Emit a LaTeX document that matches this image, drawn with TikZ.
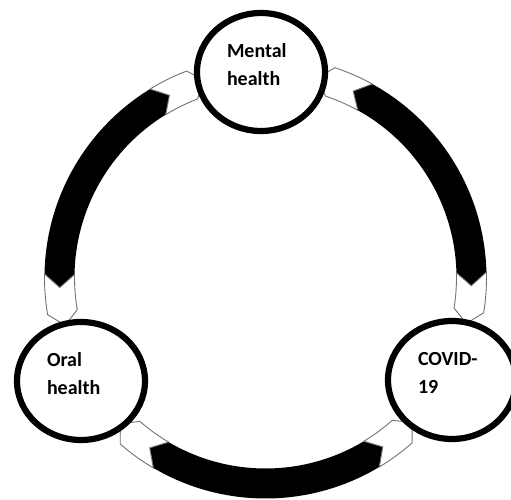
\documentclass[tikz,border=0pt]{standalone}
\usepackage{fontspec}
\setmainfont{Carlito}
\usetikzlibrary{shapes.geometric}

% radii of the arrow band around the cycle centre
\def\Ro{221pt}\def\Rm{206pt}\def\Ri{191pt}

% one double-headed band between two node angles #1 < #2
\newcommand\cyclearrow[2]{%
  \pgfmathsetmacro\fa{#1+19.6}\pgfmathsetmacro\ta{#1+15.9}%
  \pgfmathsetmacro\ba{#1+30.2}\pgfmathsetmacro\na{#1+26.5}%
  \pgfmathsetmacro\fb{#2-19.6}\pgfmathsetmacro\tb{#2-15.9}%
  \pgfmathsetmacro\bb{#2-30.2}\pgfmathsetmacro\nb{#2-26.5}%
  \fill[bandbody] (\ba:\Ro) arc[start angle=\ba, end angle=\bb, radius=\Ro]
    -- (\nb:\Rm) -- (\bb:\Ri) arc[start angle=\bb, end angle=\ba, radius=\Ri]
    -- (\na:\Rm) -- cycle;
  \filldraw[chevron] (\fa:\Ro) -- (\ta:\Rm) -- (\fa:\Ri)
    arc[start angle=\fa, end angle=\ba, radius=\Ri]
    -- (\na:\Rm) -- (\ba:\Ro) arc[start angle=\ba, end angle=\fa, radius=\Ro] -- cycle;
  \filldraw[chevron] (\fb:\Ro) -- (\tb:\Rm) -- (\fb:\Ri)
    arc[start angle=\fb, end angle=\bb, radius=\Ri]
    -- (\nb:\Rm) -- (\bb:\Ro) arc[start angle=\bb, end angle=\fb, radius=\Ro] -- cycle;
}

\begin{document}
\begin{tikzpicture}[x=1pt,y=1pt,
  bandbody/.style={fill=black},
  chevron/.style={fill=white, draw=black!55, line width=0.9pt, line join=miter},
  topic/.style={ellipse, draw=black, fill=white, line width=6.2pt,
    minimum width=128pt, minimum height=118pt, inner sep=0pt,
    text width=68pt, align=left, text height=14pt, text depth=42pt,
    font=\fontsize{20}{28}\selectfont\bfseries}]
  \clip (0,0) rectangle (511,500);
  \fill[white] (0,0) rectangle (511,500);

  \coordinate (ctr) at (265.5,222.5);

  % arrow bands between the topics (node angles seen from the centre)
  \begin{scope}[shift={(ctr)}]
    \cyclearrow{91.3}{209.3}
    \cyclearrow{209.3}{331.2}
    \cyclearrow{331.2}{451.3}
  \end{scope}

  % topics
  \node[topic] (mental) at (261,428) {Mental\\health};
  \node[topic] (oral)   at (81,119)  {Oral\\health};
  \node[topic] (covid)  at (452,120) {COVID-\\19};
\end{tikzpicture}
\end{document}
